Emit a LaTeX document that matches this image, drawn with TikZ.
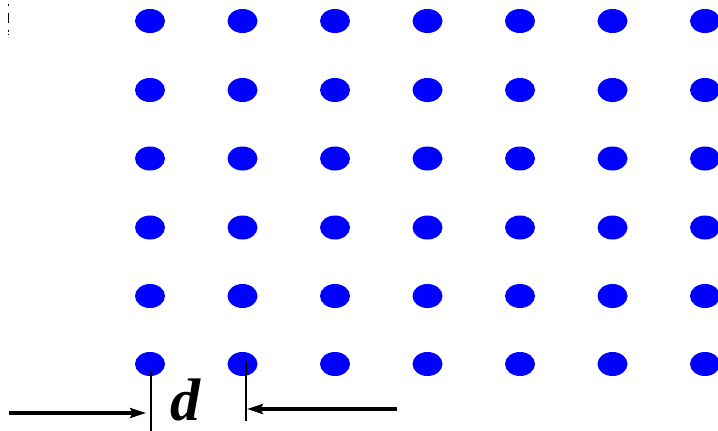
\documentclass[tikz,border=0pt]{standalone}
\usepackage{fontspec}
\setmainfont{Liberation Serif}
\usetikzlibrary{arrows.meta,shapes.geometric}
\definecolor{dotblue}{RGB}{0,0,255}
\begin{document}
\begin{tikzpicture}[x=1pt,y=-1pt,
  dot/.style={ellipse,fill=dotblue,minimum width=30pt,minimum height=24pt,inner sep=0pt},
  tick/.style={line width=2pt},
  dimarrow/.style={line width=3.2pt,-{Stealth[length=16pt,width=10pt,inset=3pt]}}]
\useasboundingbox (0,0) rectangle (718,431);
\clip (0,0) rectangle (718,431);
\foreach \c [count=\i] in {150,242.5,335,427.5,520,612.5,705}{
  \foreach \r [count=\j] in {21,90,158.5,227.5,296,364}{
    \node[dot] (p\i-\j) at (\c,\r) {};
  }
}
\draw[line width=0.9pt,dash pattern=on 2pt off 7pt on 10pt off 7pt on 2pt] (8.5,3.5) -- (8.5,35);
\coordinate (lt) at (151,371);
\coordinate (lb) at (151,431);
\coordinate (rt) at (245.5,362);
\coordinate (rb) at (245.5,421);
\draw[tick] (lt) -- (lb);
\draw[tick] (rt) -- (rb);
\coordinate (la) at (9,413);
\coordinate (ltip) at (146,413);
\coordinate (ra) at (397,409);
\coordinate (rtip) at (247,409);
\draw[dimarrow] (la) -- (ltip);
\draw[dimarrow] (ra) -- (rtip);
\node[font=\fontsize{60}{60}\selectfont\bfseries\itshape,inner sep=0pt,anchor=base] (dlab) at (185,420) {d};
\end{tikzpicture}
\end{document}
